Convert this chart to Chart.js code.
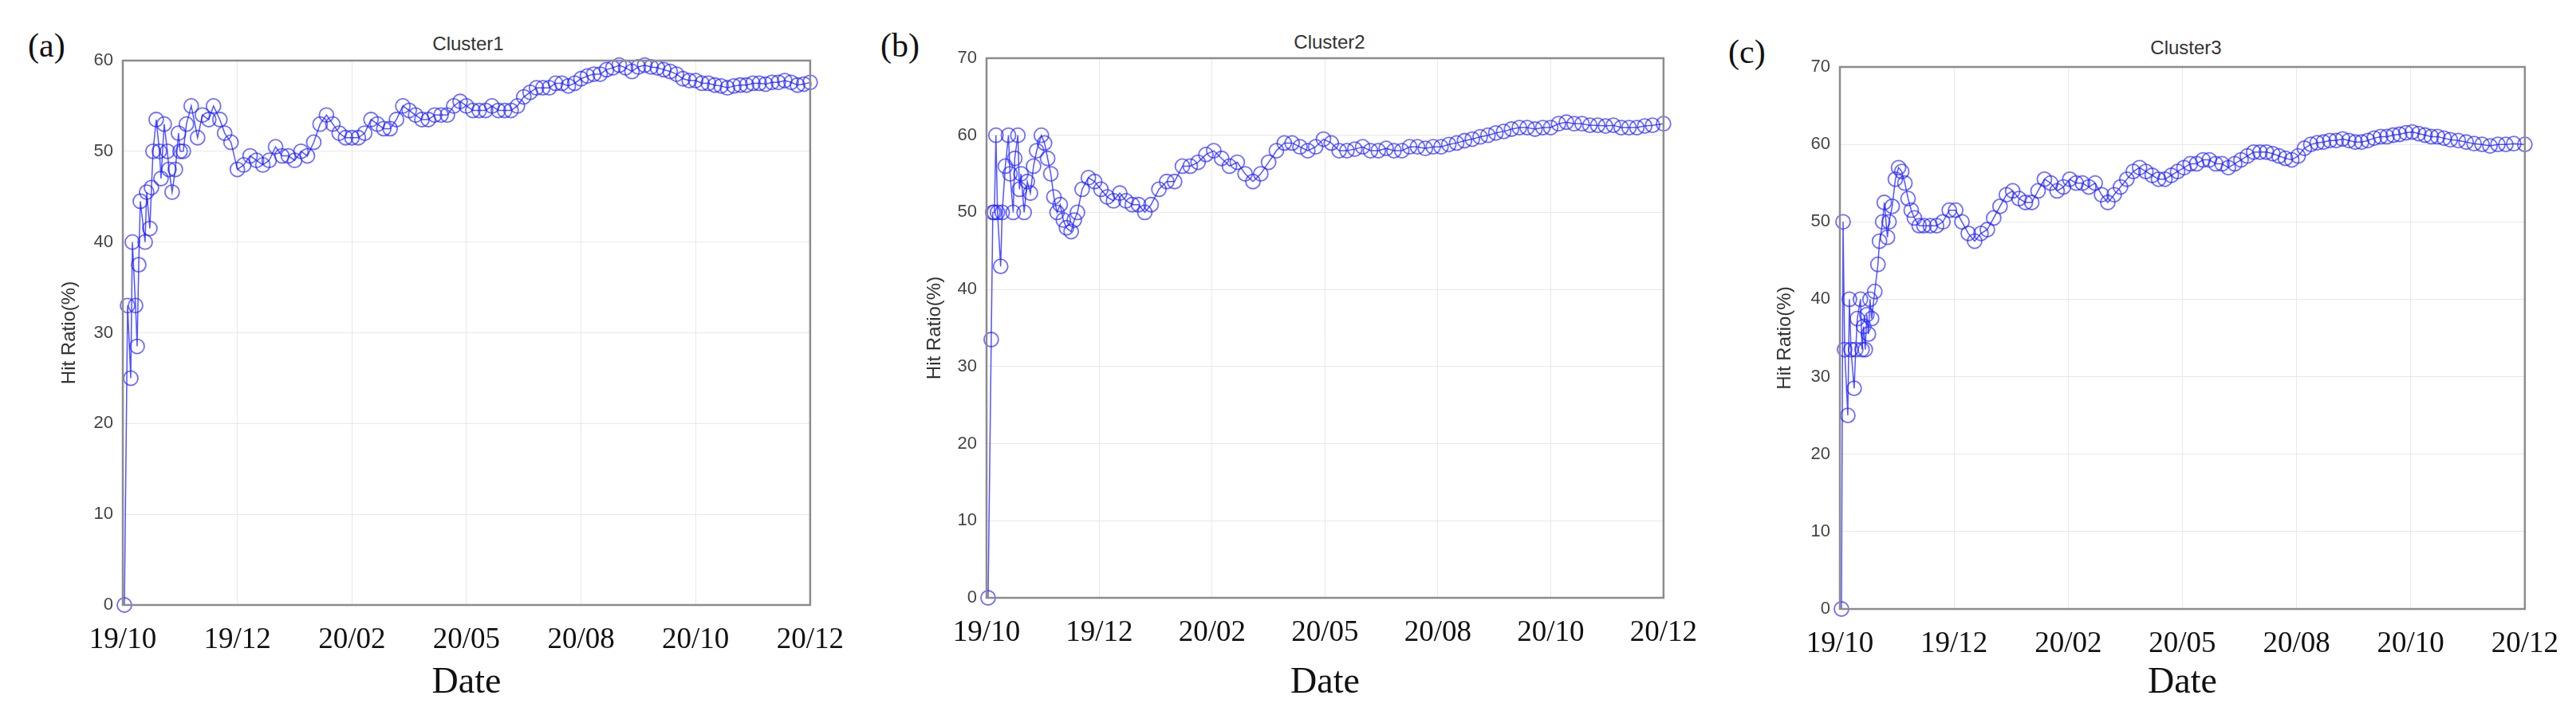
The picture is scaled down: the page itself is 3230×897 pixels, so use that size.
<!DOCTYPE html>
<html>
<head>
<meta charset="utf-8">
<script src="https://cdn.jsdelivr.net/npm/chart.js@4/dist/chart.umd.min.js"></script>
<style>
  body { margin: 0; background: #fff; width: 3230px; height: 897px; position: relative; overflow: hidden; }
  canvas { position: absolute; top: 0; }
  .lbl { position: absolute; font-family: "Liberation Serif", serif; font-size: 42px; color: #111; transform: translateY(-50%); }
  .ttl { position: absolute; font-family: "Liberation Sans", Arial, sans-serif; font-size: 24px; color: #333; transform: translate(-50%, -50%); }
</style>
</head>
<body>
<div class="lbl" style="left:35px;top:57px">(a)</div>
<div class="lbl" style="left:1104px;top:57px">(b)</div>
<div class="lbl" style="left:2167px;top:65px">(c)</div>
<div class="ttl" style="left:587px;top:55px">Cluster1</div>
<div class="ttl" style="left:1667px;top:53px">Cluster2</div>
<div class="ttl" style="left:2741px;top:60px">Cluster3</div>
<canvas id="c1" style="left:0px" width="1080" height="897"></canvas>
<canvas id="c2" style="left:1080px" width="1070" height="897"></canvas>
<canvas id="c3" style="left:2150px" width="1080" height="897"></canvas>
<script>
// tick labels along x (days since start, 0..432)
const dateTicks = ['19/10', '19/12', '20/02', '20/05', '20/08', '20/10', '20/12'];

// Cluster1
const days1 = [1,3,5,6,8,9,10,11,14,15,17,18,19,21,23,24,26,28,29,31,33,35,36,38,40,43,47,50,54,57,61,64,68,
  72,76,80,84,88,92,96,100,104,108,112,116,120,124,128,132,136,140,144,148,152,156,160,164,168,172,176,180,
  184,188,192,196,200,204,208,212,216,220,224,228,232,236,240,244,248,252,256,260,264,268,272,276,280,284,288,
  292,296,300,304,308,312,316,320,324,328,332,336,340,344,348,352,356,360,364,368,372,376,380,384,388,392,396,
  400,404,408,412,416,420,424,428,432];
const hit1 = [0,33,25,40,33,28.5,37.5,44.5,40,45.5,41.5,46,50,53.5,50,47,53,50,48,45.5,48,52,50,50,53,55,51.5,54,53.5,55,53.5,52,51,
  48,48.5,49.5,49,48.5,49,50.5,49.5,49.5,49,50,49.5,51,53,54,53,52,51.5,51.5,51.5,52,53.5,53,52.5,52.5,53.5,55,54.5,
  54,53.5,53.5,54,54,54,55,55.5,55,54.5,54.5,54.5,55,54.5,54.5,54.5,55,56,56.5,57,57,57,57.5,57.5,57.2,57.5,58,
  58.3,58.5,58.5,59,59.2,59.5,59.2,58.8,59.3,59.5,59.3,59.2,59,58.8,58.5,58,57.8,57.8,57.5,57.5,57.3,57.2,57,57.2,57.3,57.3,57.5,
  57.5,57.4,57.6,57.6,57.8,57.6,57.3,57.4,57.6];

// Cluster2
const days2 = [1,3,4,5,6,7,9,10,12,14,15,17,18,20,21,22,24,26,28,30,32,35,37,39,41,43,45,47,49,51,54,56,58,61,
  65,69,73,77,81,85,89,93,97,101,105,110,115,120,125,130,135,140,145,150,155,160,165,170,175,180,185,190,195,
  200,205,210,215,220,225,230,235,240,245,250,255,260,265,270,275,280,285,290,295,300,305,310,315,320,325,330,
  335,340,345,350,355,360,365,370,375,380,385,390,395,400,405,410,415,420,425,432];
const hit2 = [0,33.5,50,50,60,50,43,50,56,60,55,50,57,60,53,55,50,54,52.5,56,58,60,59,57,55,52,50,51,49,48,47.5,49,50,53,
  54.5,54,53,52,51.5,52.5,51.5,51,51,50,51,53,54,54,56,56,56.5,57.5,58,57,56,56.5,55,54,55,56.5,58,59,59,
  58.5,58,58.5,59.5,59,58,58,58.2,58.5,58,58,58.3,58,58,58.5,58.5,58.3,58.5,58.5,58.8,59,59.3,59.5,59.8,60,60.3,60.5,
  60.8,61,61,60.8,61,61,61.5,61.7,61.5,61.5,61.3,61.3,61.2,61.3,61,61,61,61.2,61.3,61.5];

// Cluster3
const days3 = [1,2,3,5,6,7,9,10,11,13,
  14,15,16,17,18,19,20,22,24,25,
  27,28,30,31,33,35,37,39,41,43,
  45,47,50,53,57,
  61,65,69,73,77,81,85,89,93,97,
  101,105,109,113,117,121,125,129,133,137,
  141,145,149,153,157,161,165,169,173,177,
  181,185,189,193,197,201,205,209,213,217,
  221,225,229,233,237,241,245,249,253,257,
  261,265,269,273,277,281,285,289,293,297,
  301,305,309,313,317,321,325,329,333,337,
  341,345,349,353,357,361,365,369,373,377,
  381,385,390,395,400,405,410,415,420,425,432];
const hit3 = [0,50,33.5,25,40,33.5,28.5,33.5,37.5,40,
  33.5,36.5,33.5,38,35.5,40,37.5,41,44.5,47.5,
  50,52.5,48,50,52,55.5,57,56.5,55,53,
  51.5,50.5,49.5,49.5,49.5,
  49.5,50,51.5,51.5,50,48.5,47.5,48.5,49,50.5,
  52,53.5,54,53,52.5,52.5,54,55.5,55,54,
  54.5,55.5,55,55,54.5,55,53.5,52.5,53.5,54.5,
  55.5,56.5,57,56.5,56,55.5,55.5,56,56.5,57,
  57.5,57.5,58,58,57.5,57.5,57,57.5,58,58.5,
  59,59,59,58.8,58.5,58.2,58,58.5,59.5,60,
  60.2,60.3,60.5,60.5,60.7,60.5,60.3,60.3,60.5,60.8,
  61,61,61.2,61.3,61.5,61.6,61.4,61.2,61,61,
  60.8,60.6,60.5,60.3,60.1,60,59.8,60,60,60.1,60];

const frame = {
  id: 'frame',
  afterDraw(chart) {
    const a = chart.chartArea, c = chart.ctx;
    c.save();
    c.strokeStyle = '#8c8c8c';
    c.lineWidth = 2.5;
    c.strokeRect(a.left, a.top, a.right - a.left, a.bottom - a.top);
    c.restore();
  }
};

function makeChart(id, days, hits, yMax, pad, yWidth, xHeight) {
  new Chart(document.getElementById(id), {
    type: 'line',
    data: {
      datasets: [{
        data: days.map((d, i) => ({ x: d, y: hits[i] })),
        borderColor: 'rgba(40,40,255,0.8)',
        borderWidth: 1.5,
        pointStyle: 'circle',
        pointRadius: 9,
        pointBorderWidth: 1.8,
        pointBorderColor: 'rgba(30,30,255,0.65)',
        pointBackgroundColor: 'rgba(0,0,0,0)',
        tension: 0,
        clip: false
      }]
    },
    options: {
      responsive: false,
      animation: false,
      layout: { padding: pad },
      plugins: { legend: { display: false }, tooltip: { enabled: false } },
      scales: {
        x: {
          type: 'linear', min: 0, max: 432,
          afterFit(s) { s.height = xHeight; },
          grid: { color: '#e8e8e8', drawTicks: false },
          border: { display: false },
          ticks: {
            stepSize: 72, autoSkip: false, maxRotation: 0, padding: 22,
            color: '#111', font: { family: 'Liberation Serif', size: 37 },
            callback: v => dateTicks[Math.round(v / 72)]
          },
          title: {
            display: true, text: 'Date', color: '#111',
            font: { family: 'Liberation Serif', size: 46 },
            padding: { top: 0, bottom: 12 }
          }
        },
        y: {
          min: 0, max: yMax,
          afterFit(s) { s.width = yWidth; },
          grid: { color: '#e8e8e8', drawTicks: false },
          border: { display: false },
          ticks: {
            stepSize: 10, padding: 12, color: '#444',
            font: { family: 'Liberation Sans', size: 22 }
          },
          title: {
            display: true, text: 'Hit Ratio(%)', color: '#333',
            font: { family: 'Liberation Sans', size: 24 },
            padding: 0
          }
        }
      }
    },
    plugins: [frame]
  });
}

makeChart('c1', days1, hit1, 60, { left: 73, top: 76, right: 55, bottom: 0 }, 81, 138);
makeChart('c2', days2, hit2, 70, { left: 78, top: 73, right: 41, bottom: 0 }, 79, 147);
makeChart('c3', days3, hit3, 70, { left: 74, top: 84, right: 50, bottom: 0 }, 83, 133);
</script>
</body>
</html>
